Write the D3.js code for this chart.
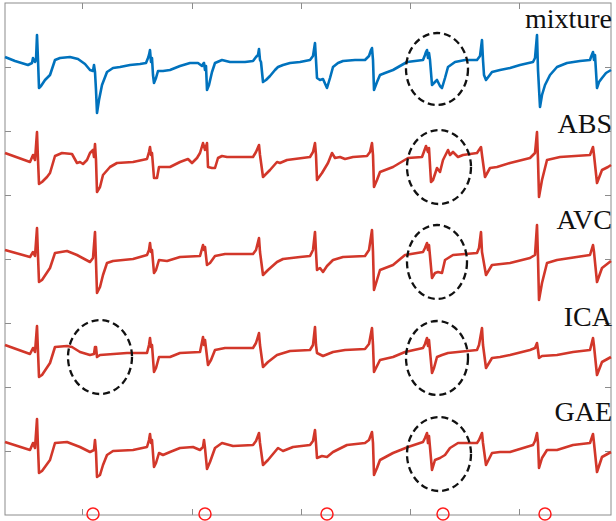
<!DOCTYPE html>
<html>
<head>
<meta charset="utf-8">
<script src="https://cdn.jsdelivr.net/npm/d3@7"></script>
<style>
  body { margin: 0; background: #fff; }
  svg { display: block; }
</style>
</head>
<body>
<svg id="chart" width="616" height="521"></svg>
<script>
// traces: [sample, amplitude relative to the trace baseline]
const mixture = [
  [0,5],[10,1],[23,-3],[27,-1],[28,4],[30,0],[31,2],[32,27],[33,2],[34,-26],[36,-24],[40,-18],[45,-13],[48,-4],[50,2],[55,4],[65,5],[73,3],[80,-2],[85,-8],[88,-9],[89,-3],[90,-10],[91,-28],[92,-51],[94,-38],[97,-23],[102,-10],[108,-6],[115,-5],[125,-3],[135,-2],[141,-1],[143,4],[144,7],[145,12],[146,0],[147,4],[148,-13],[149,-21],[151,-16],[153,-9],[158,-9],[165,-8],[175,-4],[185,-1],[193,-1],[197,-4],[198,-2],[199,-1],[200,-8],[201,-4],[202,-28],[204,-23],[207,-10],[210,-1],[217,2],[225,0],[240,0],[248,1],[251,5],[253,7],[254,13],[255,2],[256,0],[258,-20],[261,-18],[265,-14],[270,-8],[273,-5],[278,-3],[285,-1],[295,0],[305,2],[308,6],[310,19],[311,2],[312,-16],[315,-18],[318,-17],[322,-26],[325,-16],[328,-5],[333,-1],[338,1],[350,2],[360,2],[364,6],[366,12],[367,14],[368,2],[369,-28],[372,-20],[375,-13],[380,-11],[388,-8],[395,-4],[402,0],[410,1],[418,2],[420,7],[421,10],[422,12],[423,4],[424,9],[425,2],[427,-23],[429,-21],[432,-18],[435,-24],[437,-26],[440,-16],[443,-5],[450,0],[460,2],[472,2],[475,6],[477,22],[478,2],[479,-13],[481,-18],[484,-14],[487,-10],[495,-8],[505,-6],[515,-3],[528,0],[530,4],[532,27],[533,-8],[535,-45],[537,-33],[540,-23],[545,-13],[552,-5],[562,-1],[575,1],[585,2],[586,5],[588,10],[589,2],[590,7],[592,-26],[594,-20],[597,-16],[601,-11],[606,-8]
];
const abs = [
  [0,4],[25,-5],[28,2],[30,-3],[32,25],[33,-3],[34,-27],[37,-25],[42,-20],[45,-16],[50,1],[57,4],[67,3],[72,-6],[75,-5],[78,-7],[82,-3],[85,4],[88,7],[89,0],[90,13],[91,-3],[92,-35],[95,-30],[98,-18],[105,-10],[112,-6],[128,-5],[142,-2],[144,5],[145,10],[146,2],[147,4],[149,-21],[152,-21],[154,-10],[165,-10],[175,-5],[183,-2],[187,-6],[192,-1],[195,4],[198,14],[200,7],[202,14],[203,-10],[207,-11],[210,-11],[213,-1],[217,1],[222,0],[248,0],[251,5],[254,12],[255,2],[258,-20],[265,-13],[272,-5],[275,-6],[282,-3],[305,0],[308,5],[310,14],[311,2],[312,-23],[317,-16],[323,-6],[327,4],[330,-1],[335,0],[340,-2],[348,0],[362,1],[365,5],[367,14],[368,2],[369,-30],[372,-23],[375,-15],[388,-10],[403,-1],[417,0],[421,11],[423,5],[424,9],[426,-25],[428,-23],[432,-11],[435,-15],[438,-3],[443,7],[445,2],[448,5],[453,0],[458,2],[472,4],[474,7],[476,10],[477,2],[480,-20],[485,-11],[492,-10],[505,-6],[525,-1],[530,4],[532,25],[533,-3],[534,-40],[537,-23],[542,-3],[555,0],[585,2],[588,10],[589,2],[592,-26],[597,-13],[603,-10],[606,-8]
];
const avc = [
  [0,5],[25,-2],[28,3],[30,-1],[32,27],[33,-1],[34,-27],[37,-25],[45,-13],[50,2],[62,4],[72,0],[85,-7],[88,-3],[90,23],[91,-7],[92,-38],[95,-32],[98,-20],[102,-8],[108,-6],[128,-4],[142,0],[144,5],[145,12],[146,3],[147,5],[149,-18],[151,-15],[154,-5],[162,-6],[175,-2],[195,-1],[198,10],[199,5],[200,8],[202,-10],[205,-8],[210,-1],[220,1],[248,1],[251,5],[254,17],[255,3],[258,-20],[263,-15],[272,-7],[278,-4],[295,-2],[305,-1],[308,5],[310,23],[311,3],[312,-15],[315,-13],[318,-17],[322,-11],[328,-5],[338,-2],[360,-1],[364,5],[367,25],[368,3],[369,-35],[372,-25],[375,-15],[388,-10],[400,0],[418,3],[420,7],[422,12],[423,5],[424,10],[427,-23],[430,-18],[433,-17],[437,-18],[440,-5],[448,0],[472,2],[474,7],[476,23],[477,3],[481,-20],[487,-10],[505,-8],[525,-3],[530,0],[532,30],[533,-3],[534,-45],[537,-28],[542,-8],[552,-5],[585,0],[588,10],[589,3],[592,-27],[597,-13],[606,-6]
];
const ica = [
  [0,5],[25,-4],[28,2],[30,-2],[32,24],[33,-2],[34,-27],[37,-25],[45,-13],[50,3],[62,4],[67,3],[75,-2],[85,-5],[89,-4],[90,3],[91,3],[92,-7],[95,-5],[122,-3],[142,-3],[144,5],[145,12],[146,3],[147,5],[149,-22],[151,-18],[154,-7],[165,-7],[175,-3],[195,-2],[198,13],[199,5],[200,10],[203,-15],[206,-10],[210,0],[220,2],[248,2],[251,7],[254,17],[255,5],[258,-17],[263,-12],[272,-5],[285,-1],[305,0],[308,5],[310,23],[311,5],[312,-3],[318,-6],[328,-2],[340,0],[360,1],[364,6],[367,22],[368,5],[369,-22],[372,-16],[375,-10],[388,-7],[400,-2],[418,2],[420,6],[422,12],[423,4],[424,10],[427,-23],[429,-18],[432,-7],[437,-5],[443,-3],[472,0],[474,5],[477,22],[478,5],[481,-18],[487,-8],[495,-7],[505,-5],[525,0],[530,2],[532,7],[533,0],[534,-8],[537,-6],[552,-5],[568,-2],[585,0],[588,12],[589,4],[592,-25],[597,-12],[606,-7]
];
const gae = [
  [0,3],[25,-5],[28,2],[30,-3],[32,26],[33,-3],[34,-28],[37,-26],[45,-15],[50,2],[62,3],[75,-2],[85,-7],[89,-5],[90,5],[91,-7],[92,-32],[95,-30],[98,-20],[102,-10],[108,-6],[128,-5],[142,-2],[144,5],[145,11],[146,2],[147,5],[149,-22],[151,-18],[154,-8],[158,-10],[165,-7],[175,-3],[188,-2],[195,-5],[198,-2],[199,5],[200,-3],[202,-24],[205,-17],[210,-3],[217,2],[228,-1],[248,0],[251,4],[254,12],[255,2],[258,-20],[263,-15],[273,-3],[278,-6],[288,-2],[305,0],[308,4],[310,15],[311,2],[312,-13],[317,-11],[322,-12],[328,-7],[342,0],[360,2],[364,5],[367,13],[368,2],[369,-30],[372,-23],[375,-15],[388,-8],[403,-2],[418,3],[420,7],[422,12],[423,2],[424,9],[427,-25],[430,-15],[435,-13],[440,-10],[445,-3],[453,2],[472,2],[474,5],[477,12],[478,2],[481,-20],[487,-8],[495,-7],[505,-7],[528,0],[530,4],[532,12],[533,2],[534,-23],[537,-13],[542,-5],[552,-5],[568,0],[585,2],[588,11],[589,2],[592,-27],[597,-12],[606,-7]
];

const seriesNames = ['mixture', 'ABS', 'AVC', 'ICA', 'GAE'];
const seriesData = [mixture, abs, avc, ica, gae];
const seriesOffsets = [453, 358, 260, 165, 70];
const seriesColors = ['#0072bd', '#d2372a', '#d2372a', '#d2372a', '#d2372a'];

const xTicks = [77, 187, 296, 405, 514];
const yTicks = [64, 128, 192, 256, 320, 384, 448];

// marked regions: centre (sample, level), radii
const ellipses = [
  [432, 446, 31, 36],
  [434, 348, 32, 37],
  [432, 253, 30, 37],
  [95, 158, 32, 37],
  [432, 157, 31, 37],
  [434, 61, 32, 37]
];
const markers = [88, 200, 322, 438, 540];
const labelLevels = [487, 382, 286, 189, 94];

const margin = { top: 3, right: 5, bottom: 6, left: 5 };
const width = 616 - margin.left - margin.right;
const height = 521 - margin.top - margin.bottom;

const svg = d3.select('#chart');
const g = svg.append('g').attr('transform', `translate(${margin.left},${margin.top})`);

const x = d3.scaleLinear().domain([0, 606]).range([0, width]);
const y = d3.scaleLinear().domain([0, 512]).range([height, 0]);

const axisColor = '#8c8c8c';
const tickLen = 6;

function styleAxis(sel) {
  sel.select('.domain').remove();
  sel.selectAll('.tick line').attr('stroke', axisColor);
  sel.selectAll('.tick text').remove();
}

g.append('g').attr('transform', `translate(0,${height})`)
  .call(d3.axisBottom(x).tickValues(xTicks).tickSizeInner(-tickLen).tickSizeOuter(0)).call(styleAxis);
g.append('g')
  .call(d3.axisTop(x).tickValues(xTicks).tickSizeInner(-tickLen).tickSizeOuter(0)).call(styleAxis);
g.append('g')
  .call(d3.axisLeft(y).tickValues(yTicks).tickSizeInner(-tickLen).tickSizeOuter(0)).call(styleAxis);
g.append('g').attr('transform', `translate(${width},0)`)
  .call(d3.axisRight(y).tickValues(yTicks).tickSizeInner(-tickLen).tickSizeOuter(0)).call(styleAxis);

g.append('rect')
  .attr('width', width).attr('height', height)
  .attr('fill', 'none').attr('stroke', axisColor).attr('stroke-width', 1);

const line = d3.line();

seriesData.forEach((pts, i) => {
  g.append('path')
    .datum(pts)
    .attr('fill', 'none')
    .attr('stroke', seriesColors[i])
    .attr('stroke-width', 2.6)
    .attr('stroke-linejoin', 'round')
    .attr('d', line.x(d => x(d[0])).y(d => y(seriesOffsets[i] + d[1])));
});

g.selectAll('.mark')
  .data(ellipses)
  .join('ellipse')
  .attr('class', 'mark')
  .attr('cx', d => x(d[0]))
  .attr('cy', d => y(d[1]))
  .attr('rx', d => x(d[2]) - x(0))
  .attr('ry', d => y(0) - y(d[3]))
  .attr('fill', 'none')
  .attr('stroke', '#111')
  .attr('stroke-width', 2.3)
  .attr('stroke-dasharray', '7,4');

g.selectAll('.beat')
  .data(markers)
  .join('circle')
  .attr('class', 'beat')
  .attr('cx', d => x(d))
  .attr('cy', y(0) - 1)
  .attr('r', 6)
  .attr('fill', 'none')
  .attr('stroke', '#ff1a1a')
  .attr('stroke-width', 1.5);

g.selectAll('.label')
  .data(seriesNames)
  .join('text')
  .attr('class', 'label')
  .attr('x', width + 1)
  .attr('y', (d, i) => y(labelLevels[i]))
  .attr('text-anchor', 'end')
  .attr('font-family', '"Liberation Serif", "Times New Roman", serif')
  .attr('font-size', 28)
  .attr('fill', '#111')
  .text(d => d);
</script>
</body>
</html>
